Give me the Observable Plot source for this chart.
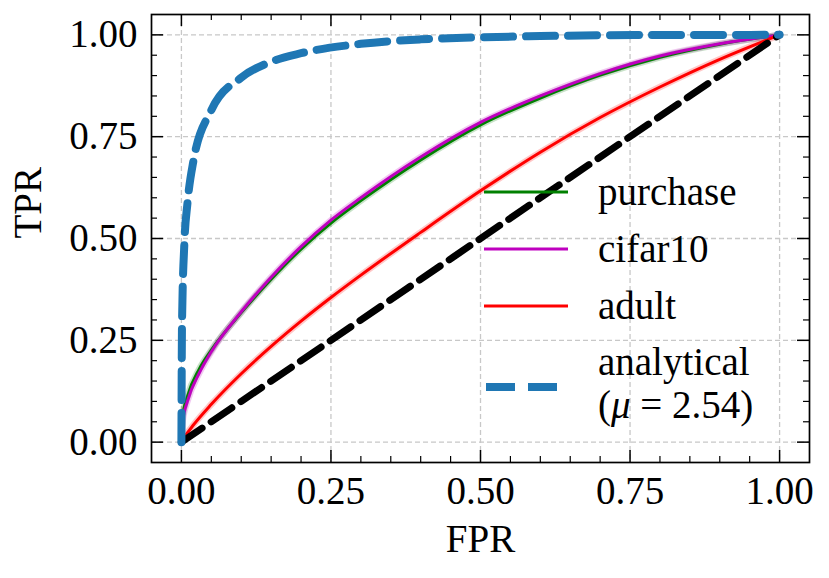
<!DOCTYPE html>
<html><head><meta charset="utf-8">
<script src="https://cdn.jsdelivr.net/npm/d3@7"></script>
<script src="https://cdn.jsdelivr.net/npm/@observablehq/plot@0.6"></script>
<style>body{margin:0;background:#fff}</style>
</head><body><div id="chart"></div>
<script>
// ---- data ----
const fprPurchase = [0, 0.002, 0.01, 0.03, 0.05, 0.10, 0.15, 0.20, 0.25, 0.30, 0.40, 0.50, 0.60, 0.70, 0.80, 0.90, 1.0];
const tprPurchase = [0, 0.062, 0.112, 0.180, 0.226, 0.318, 0.400, 0.474, 0.538, 0.593, 0.693, 0.779, 0.845, 0.901, 0.945, 0.977, 1.0];
const fprCifar    = [0, 0.002, 0.01, 0.03, 0.05, 0.10, 0.15, 0.20, 0.25, 0.30, 0.40, 0.50, 0.60, 0.70, 0.80, 0.90, 1.0];
const tprCifar    = [0, 0.050, 0.100, 0.170, 0.222, 0.320, 0.405, 0.480, 0.545, 0.600, 0.700, 0.785, 0.850, 0.905, 0.948, 0.978, 1.0];
const fprAdult    = [0, 0.005, 0.02, 0.05, 0.10, 0.15, 0.20, 0.25, 0.30, 0.40, 0.50, 0.60, 0.70, 0.80, 0.90, 1.0];
const tprAdult    = [0, 0.012, 0.042, 0.093, 0.168, 0.235, 0.297, 0.355, 0.410, 0.515, 0.617, 0.712, 0.797, 0.872, 0.940, 1.0];
const fprAnalytical = [0, 0.001, 0.005, 0.01, 0.02, 0.05, 0.10, 0.15, 0.20, 0.30, 0.40, 0.50, 0.60, 0.70, 0.80, 0.90, 1.0];
const tprAnalytical = [0, 0.29, 0.49, 0.585, 0.69, 0.815, 0.895, 0.934, 0.955, 0.978, 0.989, 0.994, 0.997, 0.999, 0.9996, 0.9999, 1.0];
const fprDiagonal = [0, 1];
const tprDiagonal = [0, 1];
const seriesNames  = ["purchase", "cifar10", "adult"];
const seriesColors = ["#008000", "#bf00bf", "#ff0000"];
const analyticalLabel = ["analytical", "(μ = 2.54)"];
const majorTicks = [0, 0.25, 0.5, 0.75, 1.0];
const minorTicks = [0.05, 0.10, 0.15, 0.20, 0.30, 0.35, 0.40, 0.45, 0.55, 0.60, 0.65, 0.70, 0.80, 0.85, 0.90, 0.95];

// ---- build tables ----
const seriesFpr = [fprPurchase, fprCifar, fprAdult];
const seriesTpr = [tprPurchase, tprCifar, tprAdult];
const rows = seriesNames.flatMap((name, k) => seriesFpr[k].map((f, i) => ({name, fpr: f, tpr: seriesTpr[k][i]})));
const analytical = fprAnalytical.map((f, i) => ({fpr: f, tpr: tprAnalytical[i]}));
const diagonal = fprDiagonal.map((f, i) => ({fpr: f, tpr: tprDiagonal[i]}));
const colorOf = Object.fromEntries(seriesNames.map((n, i) => [n, seriesColors[i]]));

const W = 829, H = 578, mL = 151, mR = 20, mT = 14, mB = 116;
const fw = W - mL - mR, fh = H - mT - mB;
const font = "'Liberation Serif', 'Times New Roman', serif";
const FS = 39;

const plot = Plot.plot({
  width: W, height: H, marginLeft: mL, marginRight: mR, marginTop: mT, marginBottom: mB,
  style: {fontFamily: font, fontSize: FS + "px", background: "white", color: "black"},
  x: {domain: [-0.05, 1.05], label: null},
  y: {domain: [-0.05, 1.05], label: null},
  marks: [
    Plot.gridX(majorTicks, {stroke: "#c8c8c8", strokeOpacity: 1, strokeWidth: 1.3, strokeDasharray: "5,3"}),
    Plot.gridY(majorTicks, {stroke: "#c8c8c8", strokeOpacity: 1, strokeWidth: 1.3, strokeDasharray: "5,3"}),
    Plot.line(rows, {x: "fpr", y: "tpr", z: "name", stroke: d => colorOf[d.name], strokeWidth: 6.5, strokeOpacity: 0.22, curve: "monotone-x"}),
    Plot.line(rows, {x: "fpr", y: "tpr", z: "name", stroke: d => colorOf[d.name], strokeWidth: 3, curve: "monotone-x"}),
    Plot.line(diagonal, {x: "fpr", y: "tpr", stroke: "black", strokeWidth: 7, strokeDasharray: "25,11"}),
    Plot.line(analytical, {x: "fpr", y: "tpr", stroke: "#1f77b4", strokeWidth: 8, strokeDasharray: "29,13", curve: "monotone-x"}),
    // inward ticks on all four sides
    Plot.tickX(majorTicks, {x: d => d, insetTop: fh - 12, stroke: "black", strokeWidth: 1.5}),
    Plot.tickX(majorTicks, {x: d => d, insetBottom: fh - 12, stroke: "black", strokeWidth: 1.5}),
    Plot.tickX(minorTicks, {x: d => d, insetTop: fh - 6, stroke: "black", strokeWidth: 1.2}),
    Plot.tickX(minorTicks, {x: d => d, insetBottom: fh - 6, stroke: "black", strokeWidth: 1.2}),
    Plot.tickY(majorTicks, {y: d => d, insetRight: fw - 12, stroke: "black", strokeWidth: 1.5}),
    Plot.tickY(majorTicks, {y: d => d, insetLeft: fw - 12, stroke: "black", strokeWidth: 1.5}),
    Plot.tickY(minorTicks, {y: d => d, insetRight: fw - 6, stroke: "black", strokeWidth: 1.2}),
    Plot.tickY(minorTicks, {y: d => d, insetLeft: fw - 6, stroke: "black", strokeWidth: 1.2}),
    Plot.axisX(majorTicks, {tickSize: 0, tickPadding: 14, tickFormat: d => d.toFixed(2), fontSize: FS}),
    Plot.axisY(majorTicks, {tickSize: 0, tickPadding: 14, tickFormat: d => d.toFixed(2), fontSize: FS}),
    Plot.frame({stroke: "black", strokeWidth: 1.7}),
    Plot.text(["FPR"], {frameAnchor: "bottom", dy: 89, text: d => d, fontSize: FS}),
    Plot.text(["TPR"], {frameAnchor: "left", dx: -123, rotate: -90, text: d => d, fontSize: FS})
  ]
});

// ---- legend ----
const svg = d3.select(plot);
const lg = svg.append("g").attr("font-family", font).attr("font-size", FS)
  .attr("fill", "black").attr("text-anchor", "start");
const lx0 = 484, lx1 = 568, tx = 598, ly0 = 192, step = 57;
seriesNames.forEach((n, i) => {
  const y = ly0 + i * step;
  lg.append("line").attr("x1", lx0).attr("x2", lx1).attr("y1", y).attr("y2", y)
    .attr("stroke", seriesColors[i]).attr("stroke-width", 3);
  lg.append("text").attr("x", tx).attr("y", y + 13).attr("text-anchor", "start").text(n);
});
const ya = 387;
lg.append("line").attr("x1", lx0 + 2).attr("x2", lx1 - 8).attr("y1", ya).attr("y2", ya)
  .attr("stroke", "#1f77b4").attr("stroke-width", 8).attr("stroke-dasharray", "29,13");
lg.append("text").attr("x", tx).attr("y", 375).attr("text-anchor", "start").text(analyticalLabel[0]);
const t2 = lg.append("text").attr("x", tx).attr("y", 418).attr("text-anchor", "start");
t2.append("tspan").text("(");
t2.append("tspan").attr("font-style", "italic").text("μ");
t2.append("tspan").text(" = 2.54)");

document.getElementById("chart").appendChild(plot);
</script>
</body></html>
